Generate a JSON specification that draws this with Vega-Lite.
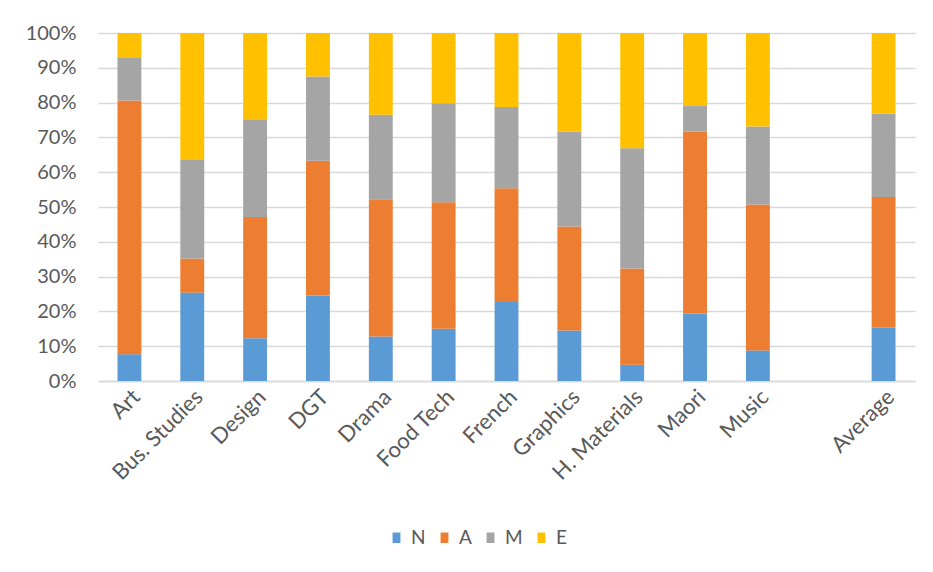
{
  "$schema": "https://vega.github.io/schema/vega-lite/v6.json",
  "autosize": "none",
  "width": 817,
  "height": 348,
  "padding": {"left": 98, "top": 33, "right": 18, "bottom": 191},
  "background": "white",
  "config": {
    "font": "Lato",
    "view": {"stroke": null},
    "axis": {
      "labelFont": "Lato",
      "labelColor": "#595959",
      "labelFontSize": 20,
      "domainColor": "#d9d9d9",
      "gridColor": "#d9d9d9",
      "ticks": false,
      "title": null
    },
    "legend": {
      "labelFont": "Lato",
      "labelColor": "#595959",
      "labelFontSize": 19
    }
  },
  "data": {
    "values": [
      {"subject": "Art", "level": "N", "pct": 7.7},
      {"subject": "Art", "level": "A", "pct": 72.9},
      {"subject": "Art", "level": "M", "pct": 12.4},
      {"subject": "Art", "level": "E", "pct": 7.0},
      {"subject": "Bus. Studies", "level": "N", "pct": 25.4},
      {"subject": "Bus. Studies", "level": "A", "pct": 9.8},
      {"subject": "Bus. Studies", "level": "M", "pct": 28.3},
      {"subject": "Bus. Studies", "level": "E", "pct": 36.5},
      {"subject": "Design", "level": "N", "pct": 12.3},
      {"subject": "Design", "level": "A", "pct": 34.8},
      {"subject": "Design", "level": "M", "pct": 27.9},
      {"subject": "Design", "level": "E", "pct": 25.0},
      {"subject": "DGT", "level": "N", "pct": 24.6},
      {"subject": "DGT", "level": "A", "pct": 38.7},
      {"subject": "DGT", "level": "M", "pct": 24.2},
      {"subject": "DGT", "level": "E", "pct": 12.5},
      {"subject": "Drama", "level": "N", "pct": 12.8},
      {"subject": "Drama", "level": "A", "pct": 39.4},
      {"subject": "Drama", "level": "M", "pct": 24.3},
      {"subject": "Drama", "level": "E", "pct": 23.5},
      {"subject": "Food Tech", "level": "N", "pct": 15.0},
      {"subject": "Food Tech", "level": "A", "pct": 36.4},
      {"subject": "Food Tech", "level": "M", "pct": 28.4},
      {"subject": "Food Tech", "level": "E", "pct": 20.2},
      {"subject": "French", "level": "N", "pct": 22.7},
      {"subject": "French", "level": "A", "pct": 32.7},
      {"subject": "French", "level": "M", "pct": 23.3},
      {"subject": "French", "level": "E", "pct": 21.3},
      {"subject": "Graphics", "level": "N", "pct": 14.5},
      {"subject": "Graphics", "level": "A", "pct": 29.9},
      {"subject": "Graphics", "level": "M", "pct": 27.3},
      {"subject": "Graphics", "level": "E", "pct": 28.3},
      {"subject": "H. Materials", "level": "N", "pct": 4.7},
      {"subject": "H. Materials", "level": "A", "pct": 27.6},
      {"subject": "H. Materials", "level": "M", "pct": 34.6},
      {"subject": "H. Materials", "level": "E", "pct": 33.1},
      {"subject": "Maori", "level": "N", "pct": 19.4},
      {"subject": "Maori", "level": "A", "pct": 52.3},
      {"subject": "Maori", "level": "M", "pct": 7.3},
      {"subject": "Maori", "level": "E", "pct": 21.0},
      {"subject": "Music", "level": "N", "pct": 8.8},
      {"subject": "Music", "level": "A", "pct": 41.9},
      {"subject": "Music", "level": "M", "pct": 22.4},
      {"subject": "Music", "level": "E", "pct": 26.9},
      {"subject": "Average", "level": "N", "pct": 15.3},
      {"subject": "Average", "level": "A", "pct": 37.6},
      {"subject": "Average", "level": "M", "pct": 23.9},
      {"subject": "Average", "level": "E", "pct": 23.2}
    ]
  },
  "transform": [
    {"calculate": "indexof(['N', 'A', 'M', 'E'], datum.level)", "as": "stackOrder"}
  ],
  "mark": {"type": "bar"},
  "encoding": {
    "x": {
      "field": "subject",
      "type": "nominal",
      "scale": {
        "domain": ["Art", "Bus. Studies", "Design", "DGT", "Drama", "Food Tech", "French", "Graphics", "H. Materials", "Maori", "Music", " ", "Average"],
        "paddingInner": 0.62,
        "paddingOuter": 0.31
      },
      "axis": {"labelAngle": -45, "labelPadding": 5, "labelFontSize": 22, "domainWidth": 1.5}
    },
    "y": {
      "field": "pct",
      "type": "quantitative",
      "stack": "normalize",
      "scale": {"domain": [0, 1]},
      "axis": {
        "values": [0, 0.1, 0.2, 0.3, 0.4, 0.5, 0.6, 0.7, 0.8, 0.9, 1],
        "format": ".0%",
        "domain": false,
        "labelPadding": 22,
        "gridWidth": 1.5
      }
    },
    "order": {"field": "stackOrder", "type": "quantitative", "sort": "ascending"},
    "color": {
      "field": "level",
      "type": "nominal",
      "sort": ["N", "A", "M", "E"],
      "scale": {
        "domain": ["N", "A", "M", "E"],
        "range": ["#5b9bd5", "#ed7d31", "#a5a5a5", "#ffc000"]
      },
      "legend": {
        "title": null,
        "orient": "none",
        "direction": "horizontal",
        "legendX": 289,
        "legendY": 495,
        "symbolType": "M-0.75,-1H0.75V1H-0.75Z",
        "symbolSize": 110,
        "symbolStrokeWidth": 0,
        "labelOffset": 5,
        "columnPadding": 9,
        "padding": 0
      }
    }
  }
}
